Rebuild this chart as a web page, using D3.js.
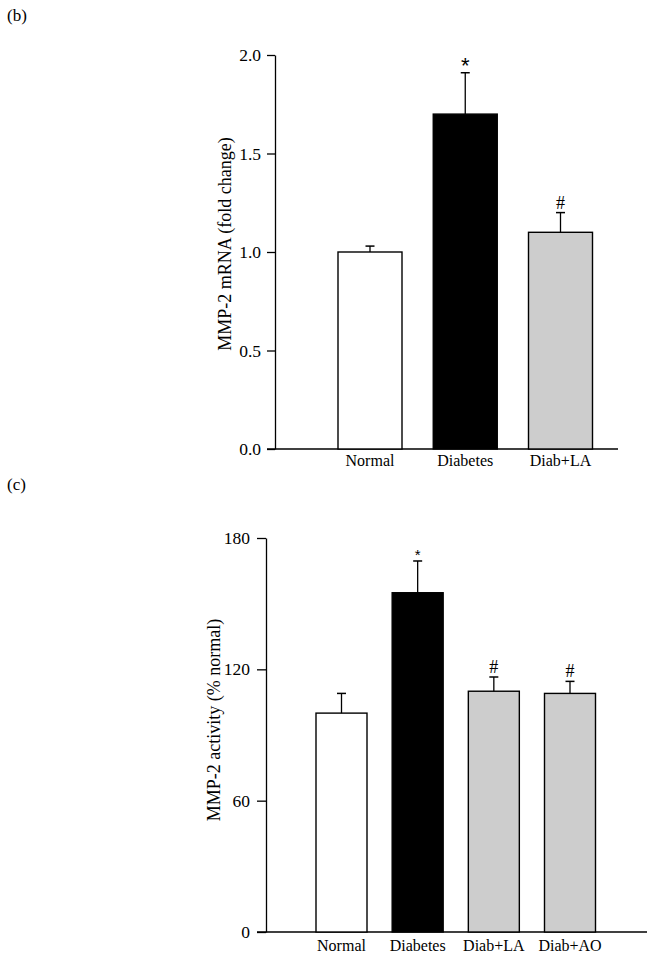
<!DOCTYPE html>
<html>
<head>
<meta charset="utf-8">
<script src="https://cdn.jsdelivr.net/npm/d3@7"></script>
<style>
  body { margin: 0; background: #fff; }
  text { font-family: "Liberation Serif", "Times New Roman", serif; fill: #000; }
</style>
</head>
<body>
<div class="chart"></div>
<script>
// panel (b) - MMP-2 mRNA
var catsB = ["Normal", "Diabetes", "Diab+LA"];
var meanB = [1.0, 1.70, 1.10];
var errB = [0.03, 0.21, 0.10];
var markB = ["", "*", "#"];
var ticksB = [0, 0.5, 1.0, 1.5, 2.0];

// panel (c) - MMP-2 activity
var catsC = ["Normal", "Diabetes", "Diab+LA", "Diab+AO"];
var meanC = [100, 155, 110, 109];
var errC = [9, 14.5, 6.5, 5.5];
var markC = ["", "*", "#", "#"];
var ticksC = [0, 60, 120, 180];

var fills = {"Normal": "#ffffff", "Diabetes": "#000000", "Diab+LA": "#cdcdcd", "Diab+AO": "#cdcdcd"};

var svgWidth = 664;
var svgHeight = 965;

var svg = d3.select(".chart")
  .append("svg")
  .attr("width", svgWidth)
  .attr("height", svgHeight);

function drawPanel(opt) {
  var y = d3.scaleLinear().domain(opt.yDomain).range([opt.y0, opt.y1]);
  var x = d3.scalePoint().domain(opt.cats).range(opt.xRange);

  var g = svg.append("g");

  // panel letter
  svg.append("text")
    .attr("x", 7)
    .attr("y", opt.letterY)
    .style("font-size", "17px")
    .text(opt.letter);

  // y axis
  var yAxis = d3.axisLeft(y)
    .tickValues(opt.ticks)
    .tickFormat(opt.fmt)
    .tickSize(opt.tickLen)
    .tickSizeOuter(0)
    .tickPadding(opt.tickPad);

  var ya = g.append("g")
    .attr("transform", `translate(${opt.axisX},0)`)
    .call(yAxis);
  ya.selectAll("path, line").attr("stroke", "#000").attr("stroke-width", 1.3);
  ya.selectAll("text")
    .style("font-size", "17.5px")
    .style("font-family", "Liberation Serif, serif");

  // x axis baseline
  g.append("line")
    .attr("x1", opt.axisX - opt.tickLen)
    .attr("x2", opt.xEnd)
    .attr("y1", y(0))
    .attr("y2", y(0))
    .attr("stroke", "#000")
    .attr("stroke-width", 1.3);

  // bars
  g.selectAll(".bar")
    .data(opt.cats)
    .enter()
    .append("rect")
    .attr("x", d => x(d) - opt.barW / 2)
    .attr("y", (d, i) => y(opt.means[i]))
    .attr("width", opt.barW)
    .attr("height", (d, i) => y(0) - y(opt.means[i]))
    .attr("fill", d => fills[d])
    .attr("stroke", "#000")
    .attr("stroke-width", 1.4);

  // error bars (upper only)
  g.selectAll(".err")
    .data(opt.cats)
    .enter()
    .append("line")
    .attr("x1", d => x(d))
    .attr("x2", d => x(d))
    .attr("y1", (d, i) => y(opt.means[i]))
    .attr("y2", (d, i) => y(opt.means[i] + opt.errs[i]))
    .attr("stroke", "#000")
    .attr("stroke-width", 1.3);

  g.selectAll(".cap")
    .data(opt.cats)
    .enter()
    .append("line")
    .attr("x1", d => x(d) - 4.5)
    .attr("x2", d => x(d) + 4.5)
    .attr("y1", (d, i) => y(opt.means[i] + opt.errs[i]))
    .attr("y2", (d, i) => y(opt.means[i] + opt.errs[i]))
    .attr("stroke", "#000")
    .attr("stroke-width", 1.5);

  // significance marks
  g.selectAll(".mark")
    .data(opt.cats)
    .enter()
    .append("text")
    .attr("x", d => x(d))
    .attr("y", (d, i) => y(opt.means[i] + opt.errs[i]) - (opt.marks[i] == "*" ? opt.starOff : opt.hashOff))
    .attr("text-anchor", "middle")
    .style("font-size", (d, i) => opt.marks[i] == "*" ? opt.starSize : "18px")
    .style("font-family", (d, i) => opt.marks[i] == "*" ? "Liberation Sans, Arial, sans-serif" : "Liberation Serif, serif")
    .text((d, i) => opt.marks[i]);

  // category labels
  g.selectAll(".cat")
    .data(opt.cats)
    .enter()
    .append("text")
    .attr("x", d => x(d))
    .attr("y", opt.labelY)
    .attr("text-anchor", "middle")
    .style("font-size", "16px")
    .text(d => d);

  // y label
  g.append("text")
    .attr("transform", `translate(${opt.yLabelX}, ${opt.yLabelY}) rotate(-90)`)
    .attr("text-anchor", "middle")
    .style("font-size", "18px")
    .text(opt.yLabel);
}

drawPanel({
  letter: "(b)", letterY: 21,
  cats: catsB, means: meanB, errs: errB, marks: markB, ticks: ticksB,
  fmt: d3.format(".1f"),
  yDomain: [0, 2], y0: 449, y1: 55,
  axisX: 275, tickLen: 8, tickPad: 6, xEnd: 618,
  xRange: [370, 560.5], barW: 64,
  starOff: 0, starSize: "22px", hashOff: 4,
  labelY: 466,
  yLabel: "MMP-2 mRNA (fold change)", yLabelX: 231, yLabelY: 244
});

drawPanel({
  letter: "(c)", letterY: 490,
  cats: catsC, means: meanC, errs: errC, marks: markC, ticks: ticksC,
  fmt: d3.format("d"),
  yDomain: [0, 180], y0: 932, y1: 538,
  axisX: 266, tickLen: 9, tickPad: 7, xEnd: 647,
  xRange: [341.5, 570], barW: 51,
  starOff: 1, starSize: "15px", hashOff: 4,
  labelY: 951,
  yLabel: "MMP-2 activity (% normal)", yLabelX: 220, yLabelY: 720
});
</script>
</body>
</html>
